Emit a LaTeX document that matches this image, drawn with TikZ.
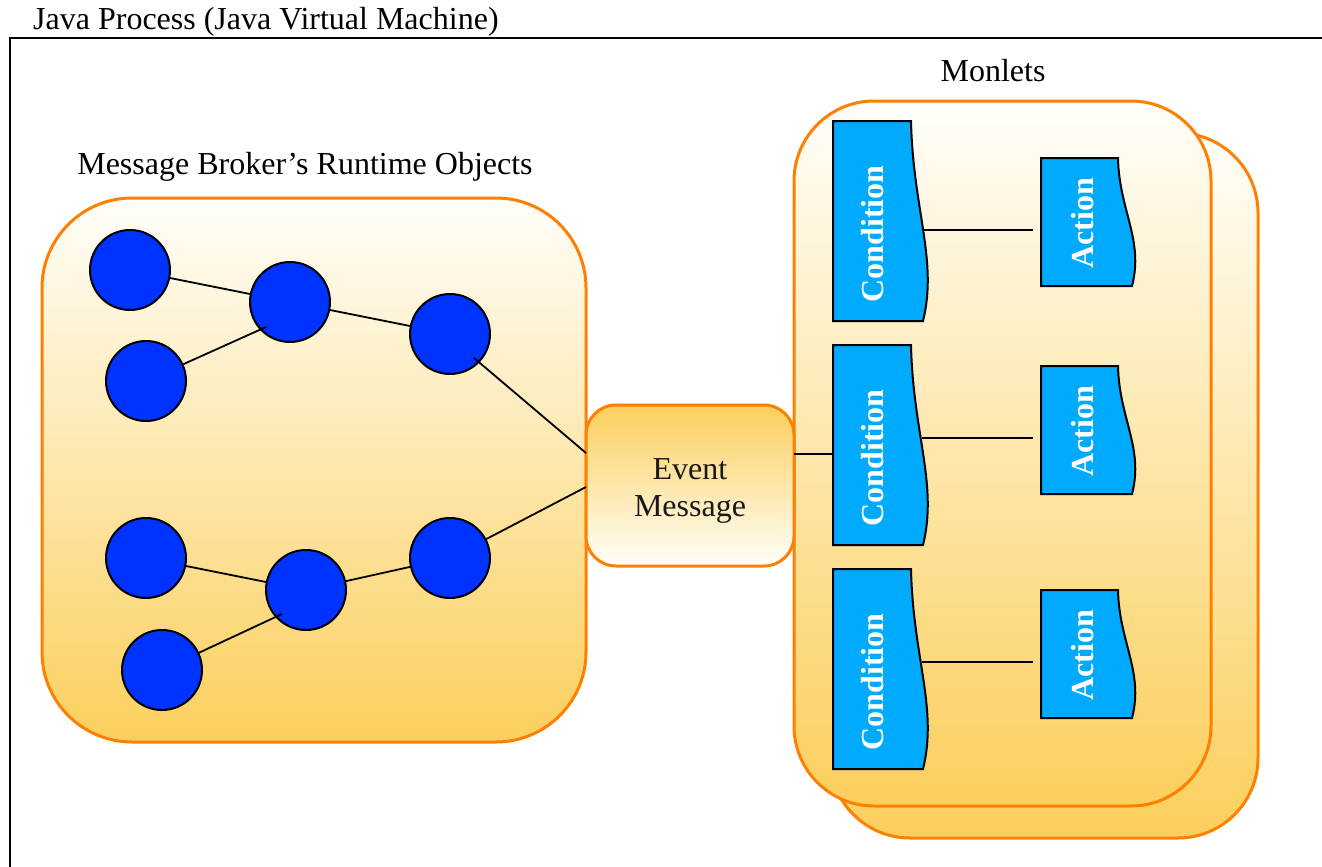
\documentclass[tikz,border=0pt]{standalone}
\usepackage{fontspec}
\setmainfont{Liberation Serif}
\definecolor{borange}{RGB}{255,128,0}
\definecolor{gtop}{RGB}{255,254,250}
\definecolor{gbot}{RGB}{251,207,92}
\definecolor{cblue}{RGB}{0,51,255}
\definecolor{sblue}{RGB}{0,170,255}
\tikzset{
  container/.style={draw=borange, line width=3pt, top color=gtop, bottom color=gbot},
  evbox/.style={draw=borange, line width=3pt, top color=gbot, bottom color=gtop, rounded corners=30pt,
    minimum width=208pt, minimum height=161pt, inner sep=0pt},
  evtext/.style={align=center, inner sep=0pt, font=\fontsize{32}{37}\selectfont, text=black!90},
  obj/.style={circle, draw=black, line width=2pt, fill=cblue, minimum size=80pt, inner sep=0pt},
  link/.style={draw=black, line width=1.8pt},
  wavebox/.style={draw=black, line width=2pt, fill=sblue},
  wavetext/.style={rotate=90, text=white, font=\fontsize{32}{34}\selectfont\bfseries, inner sep=0pt},
  label/.style={font=\fontsize{32}{34}\selectfont, text=black, inner sep=0pt},
  frame/.style={draw=black, line width=2.5pt}
}
\begin{document}
\begin{tikzpicture}[x=1pt,y=-1pt]
\useasboundingbox (0,0) rectangle (1322,867);
% outer frame
\coordinate (ftop) at (10,38);
\coordinate (fright) at (1322,38);
\coordinate (fbot) at (10,867);
\draw[frame] (fright) -- (ftop) -- (fbot);
\node[label, anchor=base west] (title) at (33,30) {Java Process (Java Virtual Machine)};

% left container
\draw[container, rounded corners=90pt] (42,198) rectangle (586,742);
\node[label] (mblabel) at (305,167) {Message Broker’s Runtime Objects};

% monlets containers
\draw[container, rounded corners=80pt] (830,133) rectangle (1258,838);
\draw[container, rounded corners=80pt] (794,101) rectangle (1211,806);
\node[label] (monlabel) at (993,71) {Monlets};

% event message
\node[evbox] (ev) at (690,485.5) {};
\node[evtext] (evt) at (690,491) {Event\\Message};

% runtime objects
\node[obj] (c1) at (130,270) {};
\node[obj] (c2) at (146,381) {};
\node[obj] (c3) at (290,302) {};
\node[obj] (c4) at (450,334) {};
\node[obj] (c5) at (146,558) {};
\node[obj] (c6) at (162,670) {};
\node[obj] (c7) at (306,590) {};
\node[obj] (c8) at (450,558) {};

\coordinate (c3in) at (266,327);
\coordinate (c4in) at (474,358);
\coordinate (c7in) at (282,614);
\coordinate (evin1) at (586,453);
\coordinate (evin2) at (586,487);
\coordinate (evout) at (794,454);
\coordinate (cin2) at (833,454);

\draw[link] (c1) -- (c3);
\draw[link] (c2) -- (c3in);
\draw[link] (c3) -- (c4);
\draw[link] (c4in) -- (evin1);
\draw[link] (c5) -- (c7);
\draw[link] (c6) -- (c7in);
\draw[link] (c7) -- (c8);
\draw[link] (c8) -- (evin2);
\draw[link] (evout) -- (cin2);

% conditions
\foreach \i/\dy in {1/0,2/224,3/448} {
  \begin{scope}[shift={(0,\dy)}]
    \draw[wavebox] (833,121) -- (911,121) .. controls (913,210) and (938,260) .. (923,321) -- (833,321) -- cycle;
    \node[wavetext] (cond\i) at (873,234) {Condition};
  \end{scope}
}
% actions
\foreach \i/\dy in {1/0,2/208,3/432} {
  \begin{scope}[shift={(0,\dy)}]
    \draw[wavebox] (1041,158) -- (1118,158) .. controls (1119,210) and (1144,240) .. (1132,286) -- (1041,286) -- cycle;
    \node[wavetext] (act\i) at (1083,223) {Action};
    \coordinate (cout\i) at (922,230);
    \coordinate (ain\i) at (1033,230);
    \draw[link] (cout\i) -- (ain\i);
  \end{scope}
}
\end{tikzpicture}
\end{document}
